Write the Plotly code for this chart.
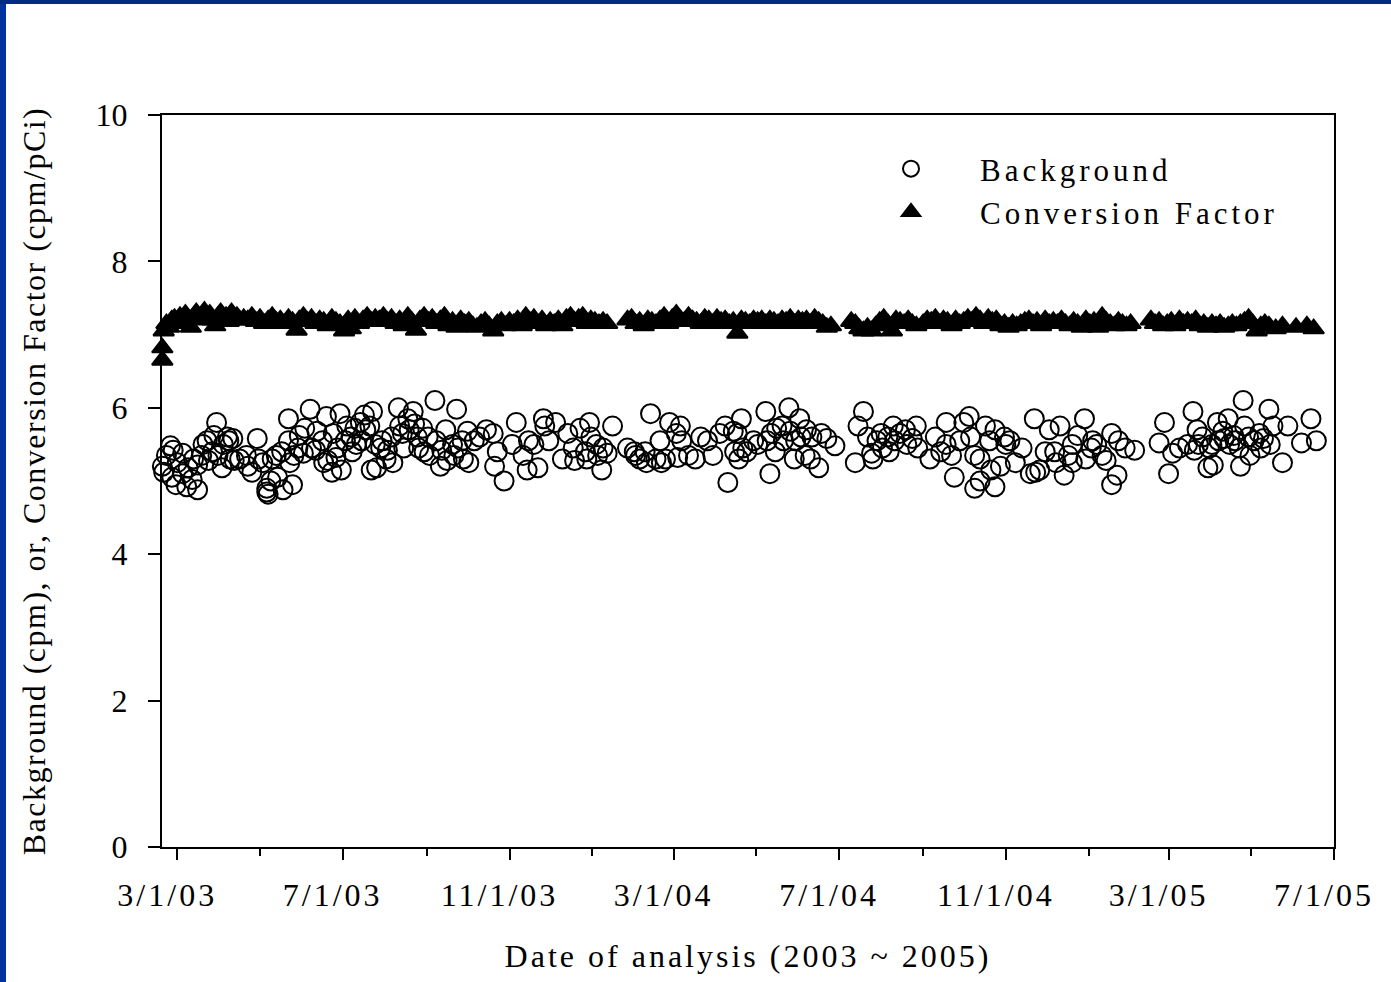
import plotly.graph_objects as go
import pandas as pd

START = "2003-03-01"

# Background (cpm): day offset from 3/1/03, value
bg_day = [-11, -10, -8, -5, -4, -3, -1, 0, 4, 4, 7, 8, 11, 12, 15, 15, 18, 19, 22, 23,
          26, 27, 29, 30, 33, 34, 37, 38, 39, 41, 42, 46, 51, 52, 55, 59, 60, 63, 66, 66,
          67, 69, 70, 73, 74, 77, 78, 82, 82, 83, 85, 86, 89, 90, 93, 94, 98, 99, 102, 103,
          107, 108, 110, 111, 114, 115, 117, 118, 120, 121, 124, 125, 128, 129, 131, 132, 135, 136, 138, 139,
          142, 143, 144, 146, 147, 150, 151, 154, 155, 158, 159, 163, 164, 166, 167, 170, 171, 174, 175, 177,
          178, 181, 182, 185, 186, 190, 191, 194, 195, 198, 199, 203, 204, 206, 207, 210, 211, 214, 215, 219,
          223, 228, 233, 234, 236, 241, 247, 250, 255, 258, 259, 263, 266, 270, 271, 274, 279, 284, 288, 292,
          293, 297, 301, 302, 304, 305, 309, 310, 313, 314, 317, 321, 332, 337, 338, 341, 345, 346, 349, 353,
          356, 357, 360, 363, 368, 369, 371, 372, 377, 382, 386, 391, 395, 400, 404, 406, 410, 411, 413, 414,
          416, 417, 420, 425, 428, 434, 435, 437, 438, 441, 442, 446, 447, 451, 452, 455, 456, 459, 460, 463,
          464, 467, 468, 473, 475, 479, 485, 500, 502, 506, 509, 512, 513, 516, 519, 520, 524, 525, 528, 529,
          533, 537, 538, 542, 545, 546, 555, 559, 563, 567, 567, 571, 573, 577, 580, 584, 585, 588, 588, 592,
          592, 596, 599, 600, 603, 603, 607, 610, 611, 614, 618, 623, 629, 632, 633, 636, 640, 643, 647, 648,
          651, 654, 657, 660, 660, 664, 669, 670, 674, 675, 678, 682, 685, 689, 689, 693, 694, 699, 706, 724,
          728, 731, 734, 739, 745, 749, 750, 752, 753, 756, 760, 761, 763, 764, 767, 768, 771, 772, 775, 776,
          779, 780, 783, 784, 786, 787, 790, 791, 794, 798, 799, 801, 805, 806, 808, 815, 819, 829, 836, 840]
bg_val = [5.20, 5.12, 5.35, 5.48, 5.05, 5.42, 4.95, 5.25, 5.10, 5.38, 4.92, 5.18, 5.02, 5.30, 4.88, 5.22, 5.35, 5.50, 5.55, 5.28,
          5.40, 5.62, 5.80, 5.35, 5.18, 5.50, 5.60, 5.55, 5.30, 5.58, 5.28, 5.30, 5.35, 5.20, 5.12, 5.58, 5.30, 5.25, 4.85, 4.90,
          4.82, 5.00, 5.30, 5.35, 5.05, 5.40, 4.88, 5.85, 5.55, 5.25, 4.95, 5.35, 5.45, 5.62, 5.38, 5.72, 5.98, 5.45, 5.42, 5.68,
          5.55, 5.25, 5.88, 5.28, 5.12, 5.65, 5.32, 5.45, 5.92, 5.15, 5.55, 5.75, 5.60, 5.40, 5.72, 5.50, 5.80, 5.55, 5.90, 5.70,
          5.75, 5.15, 5.95, 5.50, 5.18, 5.45, 5.55, 5.30, 5.42, 5.60, 5.25, 6.00, 5.75, 5.65, 5.45, 5.85, 5.70, 5.95, 5.78, 5.60,
          5.45, 5.72, 5.40, 5.60, 5.35, 6.10, 5.55, 5.20, 5.42, 5.70, 5.28, 5.50, 5.35, 5.98, 5.45, 5.55, 5.30, 5.68, 5.25, 5.55,
          5.60, 5.70, 5.65, 5.20, 5.40, 5.00, 5.50, 5.80, 5.35, 5.15, 5.55, 5.50, 5.18, 5.85, 5.75, 5.55, 5.80, 5.30, 5.65, 5.45,
          5.28, 5.72, 5.40, 5.30, 5.80, 5.60, 5.50, 5.35, 5.15, 5.45, 5.38, 5.75, 5.45, 5.40, 5.35, 5.30, 5.40, 5.25, 5.92, 5.30,
          5.55, 5.25, 5.30, 5.80, 5.65, 5.32, 5.75, 5.55, 5.35, 5.30, 5.60, 5.55, 5.35, 5.65, 5.75, 4.98, 5.68, 5.40, 5.65, 5.30,
          5.85, 5.45, 5.40, 5.55, 5.50, 5.95, 5.55, 5.10, 5.65, 5.40, 5.72, 5.75, 5.55, 6.00, 5.68, 5.30, 5.55, 5.85, 5.60, 5.35,
          5.70, 5.30, 5.60, 5.18, 5.65, 5.58, 5.48, 5.25, 5.75, 5.95, 5.60, 5.38, 5.30, 5.55, 5.65, 5.45, 5.60, 5.40, 5.75, 5.55,
          5.65, 5.70, 5.50, 5.58, 5.75, 5.45, 5.30, 5.60, 5.40, 5.80, 5.50, 5.35, 5.05, 5.55, 5.80, 5.88, 5.60, 4.90, 5.35, 5.00,
          5.30, 5.75, 5.55, 5.15, 4.92, 5.70, 5.20, 5.60, 5.50, 5.55, 5.25, 5.45, 5.10, 5.85, 5.12, 5.15, 5.40, 5.70, 5.40, 5.25,
          5.75, 5.08, 5.35, 5.50, 5.25, 5.62, 5.85, 5.30, 5.45, 5.55, 5.50, 5.35, 5.28, 4.95, 5.65, 5.08, 5.55, 5.45, 5.42, 5.52,
          5.80, 5.10, 5.38, 5.45, 5.50, 5.95, 5.42, 5.70, 5.50, 5.60, 5.18, 5.45, 5.50, 5.22, 5.80, 5.55, 5.68, 5.58, 5.85, 5.50,
          5.62, 5.55, 5.45, 5.20, 6.10, 5.75, 5.60, 5.35, 5.55, 5.65, 5.45, 5.58, 5.98, 5.50, 5.75, 5.25, 5.75, 5.52, 5.85, 5.55]

# Conversion Factor (cpm/pCi): day offset from 3/1/03, value
cf_day = [-11, -11, -10, -8, -6, -4, -2, 0, 2, 4, 6, 8, 10, 12, 14, 16, 18, 20, 22, 24,
          26, 28, 30, 32, 34, 36, 38, 40, 42, 44, 46, 49, 52, 55, 58, 61, 64, 67, 70, 73,
          76, 79, 82, 85, 88, 90, 93, 96, 99, 102, 105, 108, 111, 114, 117, 120, 123, 126, 128, 131,
          134, 137, 140, 143, 146, 149, 152, 155, 158, 161, 164, 167, 170, 173, 176, 179, 182, 185, 188, 191,
          194, 197, 200, 203, 206, 209, 212, 215, 218, 221, 224, 227, 230, 233, 236, 239, 242, 245, 248, 251,
          254, 257, 260, 263, 266, 269, 272, 275, 278, 281, 284, 287, 290, 293, 296, 299, 302, 305, 308, 311,
          314, 317, 332, 335, 338, 341, 344, 347, 350, 353, 356, 359, 362, 365, 368, 371, 374, 377, 380, 383,
          386, 389, 392, 395, 398, 401, 404, 407, 410, 413, 416, 419, 422, 425, 428, 431, 434, 437, 440, 443,
          446, 449, 452, 455, 458, 461, 464, 467, 470, 473, 476, 479, 482, 497, 500, 503, 506, 509, 512, 515,
          518, 521, 524, 527, 530, 533, 536, 539, 542, 545, 550, 553, 556, 559, 562, 565, 568, 571, 574, 577,
          580, 583, 586, 589, 592, 595, 598, 601, 604, 607, 610, 613, 616, 619, 622, 625, 628, 631, 634, 637,
          640, 643, 646, 649, 652, 655, 658, 661, 664, 667, 670, 673, 676, 679, 682, 685, 688, 691, 694, 697,
          700, 703, 718, 721, 724, 727, 730, 733, 736, 739, 742, 745, 748, 751, 754, 757, 760, 763, 766, 769,
          772, 775, 778, 781, 784, 787, 790, 793, 796, 799, 802, 805, 810, 815, 825, 833, 838]
cf_val = [6.65, 6.82, 7.05, 7.15, 7.10, 7.20, 7.22, 7.15, 7.25, 7.20, 7.28, 7.22, 7.10, 7.25, 7.30, 7.20, 7.25, 7.32, 7.22, 7.28,
          7.20, 7.12, 7.25, 7.30, 7.22, 7.25, 7.18, 7.30, 7.22, 7.25, 7.20, 7.22, 7.20, 7.25, 7.18, 7.22, 7.15, 7.20, 7.25, 7.18,
          7.20, 7.15, 7.22, 7.18, 7.06, 7.20, 7.25, 7.18, 7.22, 7.15, 7.20, 7.18, 7.12, 7.22, 7.18, 7.15, 7.05, 7.20, 7.08, 7.22,
          7.15, 7.20, 7.25, 7.18, 7.22, 7.20, 7.25, 7.18, 7.22, 7.15, 7.20, 7.12, 7.25, 7.18, 7.06, 7.20, 7.25, 7.18, 7.22, 7.15,
          7.20, 7.25, 7.12, 7.18, 7.10, 7.20, 7.15, 7.18, 7.12, 7.10, 7.15, 7.18, 7.12, 7.05, 7.15, 7.18, 7.12, 7.18, 7.15, 7.20,
          7.12, 7.25, 7.18, 7.22, 7.15, 7.20, 7.12, 7.18, 7.15, 7.20, 7.12, 7.22, 7.25, 7.18, 7.22, 7.25, 7.15, 7.20, 7.18, 7.15,
          7.18, 7.15, 7.20, 7.22, 7.15, 7.18, 7.12, 7.20, 7.18, 7.15, 7.20, 7.25, 7.15, 7.22, 7.28, 7.20, 7.18, 7.25, 7.20, 7.18,
          7.15, 7.22, 7.20, 7.15, 7.22, 7.18, 7.20, 7.15, 7.18, 7.02, 7.20, 7.18, 7.15, 7.20, 7.18, 7.20, 7.15, 7.20, 7.18, 7.15,
          7.20, 7.18, 7.22, 7.15, 7.20, 7.18, 7.20, 7.15, 7.22, 7.18, 7.15, 7.10, 7.12, 7.18, 7.15, 7.08, 7.05, 7.10, 7.05, 7.12,
          7.18, 7.22, 7.15, 7.05, 7.20, 7.18, 7.15, 7.20, 7.15, 7.12, 7.15, 7.20, 7.18, 7.22, 7.15, 7.20, 7.18, 7.12, 7.20, 7.15,
          7.18, 7.22, 7.18, 7.25, 7.20, 7.15, 7.22, 7.18, 7.20, 7.12, 7.15, 7.10, 7.15, 7.12, 7.15, 7.18, 7.20, 7.15, 7.18, 7.12,
          7.20, 7.15, 7.18, 7.15, 7.20, 7.15, 7.12, 7.18, 7.15, 7.10, 7.20, 7.15, 7.18, 7.10, 7.25, 7.18, 7.15, 7.12, 7.18, 7.15,
          7.12, 7.15, 7.20, 7.15, 7.18, 7.12, 7.15, 7.18, 7.12, 7.20, 7.15, 7.18, 7.15, 7.20, 7.12, 7.15, 7.10, 7.15, 7.12, 7.15,
          7.10, 7.12, 7.15, 7.12, 7.15, 7.18, 7.22, 7.15, 7.05, 7.12, 7.15, 7.12, 7.08, 7.12, 7.10, 7.12, 7.08]

x_tick_vals = ["2003-03-01", "2003-07-01", "2003-11-01", "2004-03-01", "2004-07-01",
               "2004-11-01", "2005-03-01", "2005-07-01"]
x_tick_labels = ["3/1/03", "7/1/03", "11/1/03", "3/1/04", "7/1/04", "11/1/04", "3/1/05", "7/1/05"]
x_minor_vals = ["2003-05-01", "2003-09-01", "2004-01-01", "2004-05-01", "2004-09-01",
                "2005-01-01", "2005-05-01"]
x_range = ["2003-02-17 18:00", "2005-07-01"]
y_range = [0, 10]

series_names = ["Background", "Conversion Factor"]
x_title = "Date of analysis (2003 ~ 2005)"
y_title = "Background (cpm), or, Conversion Factor (cpm/pCi)"

start = pd.Timestamp(START)
bg_x = start + pd.to_timedelta(bg_day, unit="D")
cf_x = start + pd.to_timedelta(cf_day, unit="D")

FONT = "Liberation Serif, Times New Roman, serif"


def spaced(s, px):
    return '<span style="letter-spacing:%spx">%s</span>' % (px, s)


fig = go.Figure()
fig.add_trace(go.Scatter(
    x=bg_x, y=bg_val, mode="markers", name=spaced(series_names[0], 4),
    marker=dict(symbol="circle-open", size=19, color="black", line=dict(width=2, color="black")),
    cliponaxis=False,
))
fig.add_trace(go.Scatter(
    x=cf_x, y=cf_val, mode="markers", name=spaced(series_names[1], 4),
    marker=dict(symbol="triangle-up", size=18, color="black", line=dict(width=2, color="black")),
    cliponaxis=False,
))

W, H = 1391, 982
L, R, T, B = 162, 57, 115, 135
pw, ph = W - L - R, H - T - B


def px_to_paper_x(p):
    return (p - L) / pw


def px_to_paper_y(p):
    return (H - B - p) / ph


fig.update_layout(
    width=W, height=H, autosize=False,
    margin=dict(l=L, r=R, t=T, b=B, pad=0, autoexpand=False),
    paper_bgcolor="white", plot_bgcolor="white",
    font=dict(family=FONT, size=32, color="black"),
    showlegend=True,
    legend=dict(
        x=px_to_paper_x(842), y=px_to_paper_y(142), xanchor="left", yanchor="top",
        bgcolor="rgba(0,0,0,0)", borderwidth=0, itemwidth=128,
        font=dict(family=FONT, size=31, color="black"), tracegroupgap=0,
    ),
    xaxis=dict(
        type="date", range=x_range, automargin=False,
        tickmode="array", tickvals=x_tick_vals,
        ticktext=[spaced(t, 3) for t in x_tick_labels],
        ticks="outside", ticklen=11, tickwidth=2, tickcolor="black",
        ticklabelstandoff=8, ticklabelshift=-10,
        minor=dict(tickmode="array", tickvals=x_minor_vals, ticks="outside", ticklen=7,
                   tickwidth=2, tickcolor="black", showgrid=False),
        showline=True, linewidth=2, linecolor="black", mirror=True,
        showgrid=False, zeroline=False,
        tickfont=dict(family=FONT, size=32, color="black"),
        title=dict(text=spaced(x_title, 3), standoff=32,
                   font=dict(family=FONT, size=32, color="black")),
    ),
    yaxis=dict(
        range=y_range, tick0=0, dtick=2, automargin=False,
        ticks="outside", ticklen=12, tickwidth=2, tickcolor="black",
        ticklabelstandoff=14,
        showline=True, linewidth=2, linecolor="black", mirror=True,
        showgrid=False, zeroline=False,
        tickfont=dict(family=FONT, size=32, color="black"),
        title=dict(text=spaced(y_title, 1.5), standoff=40,
                   font=dict(family=FONT, size=32, color="black")),
    ),
    shapes=[
        dict(type="rect", xref="paper", yref="paper",
             x0=px_to_paper_x(-20), x1=px_to_paper_x(6), y0=px_to_paper_y(H + 20), y1=px_to_paper_y(-20),
             fillcolor="#0033a0", line=dict(width=0), layer="above"),
        dict(type="rect", xref="paper", yref="paper",
             x0=px_to_paper_x(-20), x1=px_to_paper_x(W + 20), y0=px_to_paper_y(4), y1=px_to_paper_y(-20),
             fillcolor="#002b80", line=dict(width=0), layer="above"),
    ],
)

fig.write_html("out.html", config={"displayModeBar": False},
               post_script="document.body.style.margin='0';document.body.style.padding='0';")
